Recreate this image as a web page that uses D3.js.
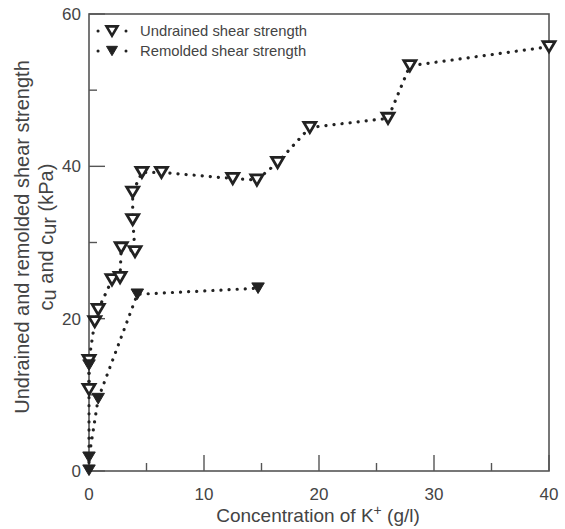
<!DOCTYPE html>
<html><head><meta charset="utf-8">
<script src="https://cdn.jsdelivr.net/npm/d3@7"></script>
<style>body{margin:0;background:#fff}svg{display:block}text{font-family:"Liberation Sans",Arial,sans-serif;fill:#444}</style>
</head><body><svg id="c" width="565" height="529"></svg>
<script>
const undrainedX = [0, 0, 0.5, 0.8, 2.0, 2.7, 2.8, 4.0, 3.8, 3.8, 4.6, 6.3, 12.5, 14.6, 16.4, 19.2, 26.0, 27.9, 40];
const undrainedY = [10.7, 14.5, 19.6, 21.2, 25.1, 25.4, 29.3, 28.8, 33.0, 36.6, 39.2, 39.2, 38.4, 38.2, 40.5, 45.1, 46.3, 53.2, 55.7];
const remoldedX = [0, 0, 0, 0.8, 4.2, 14.7];
const remoldedY = [13.9, 0.1, 1.8, 9.5, 23.2, 24.0];
const xTicks = [0, 10, 20, 30, 40];
const xMinor = [5, 15, 25, 35];
const yTicks = [0, 20, 40, 60];
const yMinor = [10, 30, 50];
const seriesNames = ["Undrained shear strength", "Remolded shear strength"];

const svg = d3.select("#c");
const L = 89, R = 549, T = 14, B = 471;
const x = d3.scaleLinear().domain([0, 40]).range([L, R]);
const y = d3.scaleLinear().domain([0, 60]).range([B, T]);
const ink = "#222", axc = "#555";

// frame
svg.append("rect").attr("x", L).attr("y", T).attr("width", R - L).attr("height", B - T)
  .attr("fill", "none").attr("stroke", axc).attr("stroke-width", 1.6);

// x ticks (inside)
const gx = svg.append("g");
gx.selectAll(".mj").data(xTicks).join("line").attr("x1", d => x(d)).attr("x2", d => x(d))
  .attr("y1", B).attr("y2", B - 16).attr("stroke", axc).attr("stroke-width", 1.4);
gx.selectAll(".mn").data(xMinor).join("line").attr("class","mn").attr("x1", d => x(d)).attr("x2", d => x(d))
  .attr("y1", B).attr("y2", B - 8).attr("stroke", axc).attr("stroke-width", 1.4);
gx.selectAll("text").data(xTicks).join("text").attr("x", d => x(d)).attr("y", B + 29)
  .attr("text-anchor", "middle").attr("font-size", 17).text(d => d);

// y ticks (inside)
const gy = svg.append("g");
gy.selectAll(".mj").data(yTicks).join("line").attr("y1", d => y(d)).attr("y2", d => y(d))
  .attr("x1", L).attr("x2", L + 16).attr("stroke", axc).attr("stroke-width", 1.4);
gy.selectAll(".mn").data(yMinor).join("line").attr("class","mn").attr("y1", d => y(d)).attr("y2", d => y(d))
  .attr("x1", L).attr("x2", L + 8).attr("stroke", axc).attr("stroke-width", 1.4);
gy.selectAll("text").data(yTicks).join("text").attr("x", L - 8).attr("y", d => y(d) + 6)
  .attr("text-anchor", "end").attr("font-size", 17).text(d => d);

// axis titles
const xt = svg.append("text").attr("x", 318).attr("y", 522).attr("text-anchor", "middle").attr("font-size", 19);
xt.append("tspan").text("Concentration of K");
xt.append("tspan").attr("font-size", 14).attr("dy", -7).text("+");
xt.append("tspan").attr("dy", 7).text(" (g/l)");

const yt = svg.append("g").attr("transform", "translate(29,237) rotate(-90)");
yt.append("text").attr("text-anchor", "middle").attr("font-size", 20).text("Undrained and remolded shear strength");
const yt2 = yt.append("text").attr("text-anchor", "middle").attr("font-size", 20).attr("y", 24);
yt2.append("tspan").text("c");
yt2.append("tspan").attr("dy", 3).text("u");
yt2.append("tspan").attr("dy", -3).text(" and c");
yt2.append("tspan").attr("dy", 3).text("ur");
yt2.append("tspan").attr("dy", -3).text(" (kPa)");

// series
const line = d3.line().x(d => x(d[0])).y(d => y(d[1]));
const und = undrainedX.map((v, i) => [v, undrainedY[i]]);
const rem = remoldedX.map((v, i) => [v, remoldedY[i]]);
const dash = "0.1 8";
[und, rem].forEach(data => {
  svg.append("path").datum(data).attr("d", line).attr("fill", "none").attr("stroke", ink)
    .attr("stroke-width", 3.2).attr("stroke-dasharray", dash).attr("stroke-linecap", "round");
});
function tri(cx, cy, s) {
  const h = s * 0.85;
  return `M${cx - s / 2},${cy - h / 2}L${cx + s / 2},${cy - h / 2}L${cx},${cy + h / 2}Z`;
}
svg.append("g").selectAll("path").data(und).join("path")
  .attr("d", d => tri(x(d[0]), y(d[1]), 12)).attr("fill", "#fff").attr("stroke", ink).attr("stroke-width", 2.8)
  .attr("stroke-linejoin", "miter");
svg.append("g").selectAll("path").data(rem).join("path")
  .attr("d", d => tri(x(d[0]), y(d[1]), 12.5)).attr("fill", ink).attr("stroke", ink).attr("stroke-width", 1);

// legend
const lg = svg.append("g");
seriesNames.forEach((name, i) => {
  const ly = 31 + i * 20;
  lg.append("line").attr("x1", 98).attr("x2", 126).attr("y1", ly).attr("y2", ly).attr("stroke", ink)
    .attr("stroke-width", 3).attr("stroke-dasharray", "0.1 27.9").attr("stroke-linecap", "round");
  if (i === 0) lg.append("path").attr("d", tri(112, ly, 11)).attr("fill", "#fff").attr("stroke", ink).attr("stroke-width", 2.6);
  else lg.append("path").attr("d", tri(112, ly, 11)).attr("fill", ink).attr("stroke", ink).attr("stroke-width", 1);
  lg.append("text").attr("x", 140).attr("y", ly + 5).attr("font-size", 14.8).text(name);
});
</script></body></html>
